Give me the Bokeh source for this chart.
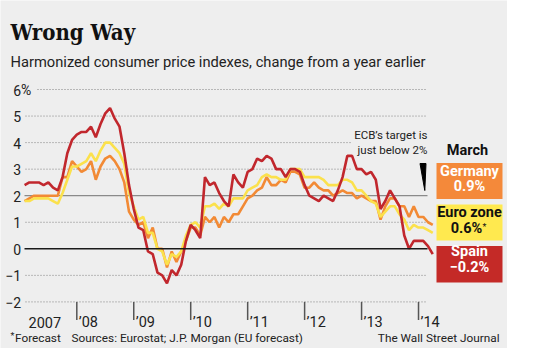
from bokeh.plotting import figure
from bokeh.models import Range1d, Label
from bokeh.core.properties import value
from bokeh.embed import file_html
from bokeh.resources import INLINE

# ---------------- data (monthly, Jan 2007 - Mar 2014, % change y/y) ----------------
germany = [1.8, 1.9, 2.0, 2.0, 2.0, 2.0, 2.0, 2.0, 2.7, 2.7, 3.3, 3.1,
           2.9, 3.0, 3.3, 2.6, 3.1, 3.4, 3.5, 3.3, 3.0, 2.5, 1.4, 1.1,
           0.9, 1.0, 0.4, 0.8, 0.0, 0.0, -0.7, -0.1, -0.5, -0.1, 0.3, 0.8,
           0.8, 0.5, 1.2, 1.0, 1.2, 0.8, 1.2, 1.0, 1.3, 1.3, 1.6, 1.9,
           2.0, 2.2, 2.3, 2.7, 2.4, 2.4, 2.6, 2.5, 2.9, 2.9, 2.8, 2.3,
           2.3, 2.5, 2.3, 2.2, 2.2, 2.0, 2.1, 2.2, 2.1, 2.1, 1.9, 2.0,
           1.9, 1.8, 1.8, 1.1, 1.6, 1.9, 1.9, 1.6, 1.6, 1.2, 1.6, 1.2,
           1.2, 1.0, 0.9]
euro_zone = [1.8, 1.8, 1.9, 1.9, 1.9, 1.9, 1.8, 1.7, 2.1, 2.6, 3.1, 3.1,
             3.2, 3.3, 3.6, 3.3, 3.7, 4.0, 4.0, 3.8, 3.6, 3.2, 2.1, 1.6,
             1.1, 1.2, 0.6, 0.6, 0.0, -0.1, -0.6, -0.2, -0.3, -0.1, 0.5, 0.9,
             1.0, 0.8, 1.6, 1.6, 1.7, 1.5, 1.7, 1.6, 1.9, 1.9, 1.9, 2.2,
             2.3, 2.4, 2.7, 2.8, 2.7, 2.7, 2.6, 2.6, 3.0, 3.0, 3.0, 2.7,
             2.7, 2.7, 2.7, 2.6, 2.4, 2.4, 2.4, 2.6, 2.6, 2.5, 2.2, 2.2,
             2.0, 1.8, 1.7, 1.2, 1.4, 1.6, 1.6, 1.3, 1.1, 0.7, 0.9, 0.8,
             0.8, 0.7, 0.6]
spain = [2.4, 2.5, 2.5, 2.5, 2.4, 2.5, 2.3, 2.2, 2.7, 3.6, 4.1, 4.3,
         4.4, 4.4, 4.6, 4.2, 4.7, 5.1, 5.3, 4.9, 4.6, 3.6, 2.4, 1.5,
         0.8, 0.7, -0.1, -0.2, -0.9, -1.0, -1.3, -0.8, -1.0, -0.6, 0.3, 0.9,
         0.7, 0.4, 2.7, 2.4, 2.5, 2.1, 1.8, 1.6, 2.8, 2.5, 2.3, 2.9,
         3.0, 3.4, 3.3, 3.5, 3.4, 3.0, 3.0, 2.7, 3.0, 3.0, 2.9, 2.4,
         2.0, 1.9, 1.8, 2.0, 1.9, 1.8, 2.2, 2.7, 3.5, 3.5, 3.0, 3.0,
         2.8, 2.9, 2.6, 1.5, 1.8, 2.2, 1.9, 1.6, 0.5, 0.0, 0.3, 0.3,
         0.3, 0.1, -0.2]
months = list(range(len(spain)))          # 0 = Jan 2007

y_ticks = [-2, -1, 0, 1, 2, 3, 4, 5, 6]
y_tick_labels = ["\u22122", "\u22121", "0", "1", "2", "3", "4", "5", "6"]
solid_levels = [0, 2]                     # 0 baseline, 2 = ECB target
year_ticks = [11, 23, 35, 47, 59, 71, 83]  # year boundaries (month index)
year_labels = ["\u201908", "\u201909", "\u201910", "\u201911", "\u201912", "\u201913", "\u201914"]
first_year_label = "2007"

# ---------------- layout helpers (picture pixel -> data) ----------------
W, H = 507, 348
PXM, PXV = 4.746, 26.55
X0, Y0 = 24.1, 248.3
def X(px): return (px - X0) / PXM
def Y(py): return (Y0 - py) / PXV

BG = "#eeeeee"
C_SPAIN, C_GER, C_EURO = "#c1272d", "#f28a35", "#fbe14c"
BOX_SPAIN, BOX_GER, BOX_EURO = "#c42a27", "#f4893a", "#ffe94f"
SANS = "Roboto"
TXT = "#222222"

p = figure(width=W, height=H, output_backend="svg", toolbar_location=None,
           x_range=Range1d(X(0), X(W)), y_range=Range1d(Y(H), Y(0)),
           x_axis_type=None, y_axis_type=None, min_border=0,
           background_fill_color=BG, border_fill_color=BG, outline_line_color=None)

# grid lines
dot_y, dot_x0, dot_x1 = [], [], []
for v in y_ticks:
    if v in solid_levels:
        continue
    dot_y.append(v)
    dot_x0.append(X(37) if v == 6 else X(25))
    dot_x1.append(X(350) if v in (3, 4) else X(427))
p.segment(x0=dot_x0, x1=dot_x1, y0=dot_y, y1=dot_y, line_color="#808080",
          line_width=1, line_dash="1 2")
p.segment(x0=[X(24)], x1=[X(427)], y0=[solid_levels[1]], y1=[solid_levels[1]],
          line_color="#8a8a8a", line_width=1.2)

# year tick marks
p.segment(x0=year_ticks, x1=year_ticks, y0=[y_ticks[0]] * len(year_ticks),
          y1=[Y(319.5)] * len(year_ticks), line_color="#555555", line_width=1.5)

# series
p.line(months, germany, line_color=C_GER, line_width=2.6)
p.line(months, euro_zone, line_color=C_EURO, line_width=2.6)
p.line(months, spain, line_color=C_SPAIN, line_width=2.6)

# zero line on top
p.segment(x0=[X(24)], x1=[X(427)], y0=[solid_levels[0]], y1=[solid_levels[0]],
          line_color="#1a1a1a", line_width=1.6)

# y tick labels
p.text(x=[X(20.5)] * len(y_ticks), y=[v - 0.02 for v in y_ticks], text=y_tick_labels,
       text_font=value(SANS), text_font_size="14px", text_color=TXT,
       text_align="right", text_baseline="middle")
p.text(x=[X(20.5)], y=[y_ticks[-1] - 0.02], text=["%"], text_font=value(SANS),
       text_font_size="14px", text_color=TXT, text_align="left", text_baseline="middle")

# x tick labels
p.text(x=[t + 2.0 / PXM for t in year_ticks], y=[Y(322.3)] * len(year_ticks), text=year_labels,
       text_font=value(SANS), text_font_size="14.5px", text_color=TXT,
       text_align="left", text_baseline="alphabetic")
p.text(x=[X(28)], y=[Y(322.3)], text=[first_year_label], text_font=value(SANS),
       text_font_size="14.5px", text_color=TXT, text_align="left", text_baseline="alphabetic")

# ECB annotation
p.add_layout(Label(x=X(427), y=Y(141.7), text="ECB\u2019s target is", text_font=SANS,
                   text_font_size="11.5px", text_color=TXT, text_align="right"))
p.add_layout(Label(x=X(427), y=Y(156.5), text="just below 2%", text_font=SANS,
                   text_font_size="11.5px", text_color=TXT, text_align="right"))
p.patch(x=[X(419.5), X(425.5), X(424.3)], y=[Y(163), Y(163), Y(190)], color="#000000")

# legend boxes
p.quad(left=[X(436)] * 3, right=[X(502)] * 3,
       top=[Y(162.5), Y(204), Y(245.5)], bottom=[Y(198.5), Y(240), Y(282)],
       fill_color=[BOX_GER, BOX_EURO, BOX_SPAIN], line_color=None)

def fmt(v):
    return f"{v:.1f}%".replace("-", "\u2212")

cx = X(469)
p.add_layout(Label(x=X(467), y=Y(158.3), text="March", text_font=SANS, text_font_style="bold",
                   text_font_size="14.5px", text_color="#111111", text_align="center"))
legend_rows = [("Germany", fmt(germany[-1]), "#ffffff", 179.5, 194.5, 469),
               ("Euro zone", fmt(euro_zone[-1]), "#111111", 220.0, 236.0, 466),
               ("Spain", fmt(spain[-1]), "#ffffff", 259.5, 275.0, 469)]
for name, val, col, b1, b2, vx in legend_rows:
    p.add_layout(Label(x=cx, y=Y(b1), text=name, text_font=SANS, text_font_style="bold",
                       text_font_size="14.5px", text_color=col, text_align="center"))
    p.add_layout(Label(x=X(vx), y=Y(b2), text=val, text_font=SANS, text_font_style="bold",
                       text_font_size="14.5px", text_color=col, text_align="center"))
p.add_layout(Label(x=X(482), y=Y(231), text="*", text_font=SANS,
                   text_font_size="9px", text_color="#111111", text_align="left"))

# titles
p.add_layout(Label(x=X(10), y=Y(44), text="Wrong Way", text_font="DejaVu Serif Condensed",
                   text_font_style="bold", text_font_size="22px", text_color="#111111"))
p.add_layout(Label(x=X(10), y=Y(70.5), text="Harmonized consumer price indexes, change from a year earlier",
                   text_font=SANS, text_font_size="14.7px", text_color=TXT))

# footer
FOOT_Y = 344
p.add_layout(Label(x=X(10), y=Y(FOOT_Y - 4), text="*", text_font=SANS, text_font_size="9px",
                   text_color=TXT))
p.add_layout(Label(x=X(14.5), y=Y(FOOT_Y), text="Forecast", text_font=SANS, text_font_size="11.8px",
                   text_color=TXT))
p.add_layout(Label(x=X(71), y=Y(FOOT_Y), text="Sources: Eurostat; J.P. Morgan (EU forecast)",
                   text_font=SANS, text_font_size="11.8px", text_color=TXT))
p.add_layout(Label(x=X(499), y=Y(FOOT_Y), text="The Wall Street Journal", text_font=SANS,
                   text_font_size="11.8px", text_color=TXT, text_align="right"))

open("out.html", "w").write(file_html(p, INLINE))
